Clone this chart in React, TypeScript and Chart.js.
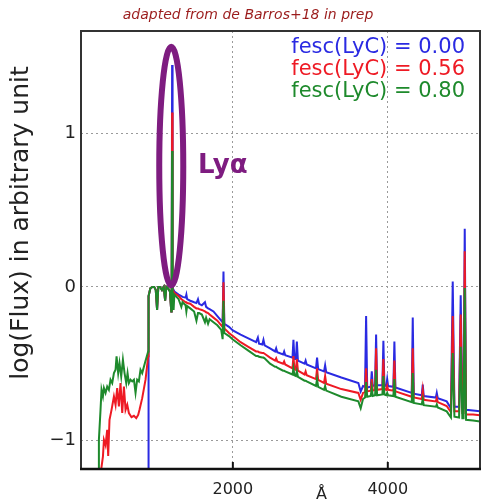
import React, { useEffect, useRef } from "react";
import { Chart, registerables } from "chart.js";

Chart.register(...registerables);

// ---------- text ----------
const TITLE = "adapted from de Barros+18 in prep";
const LEGEND_LABELS = ["fesc(LyC) = 0.00", "fesc(LyC) = 0.56", "fesc(LyC) = 0.80"];
const LINE_LABEL = "Lyα";
const X_TITLE = "Å";
const Y_TITLE = "log(Flux) in arbitrary unit";

// ---------- axes ----------
const X_MIN = 40;
const X_MAX = 5190;
const X_TICKS = [2000, 4000];
const Y_MIN = -1.185;
const Y_MAX = 1.665;
const Y_TICKS = [-1, 0, 1];

// ---------- spectra: shared wavelength grid (Å) redward of the Lyman limit ----------
const wavelength = [
  912, 935, 960, 985, 1005, 1022, 1038, 1060, 1085, 1108, 1126, 1142, 1165, 1188, 1205, 1210,
  1216, 1222, 1235, 1245, 1300, 1335, 1350, 1390, 1400, 1410, 1450, 1500, 1530, 1550, 1565,
  1600, 1640, 1655, 1680, 1700, 1750, 1800, 1850, 1868, 1879, 1890, 1950, 2000,
  2100, 2200, 2300, 2308, 2323, 2338, 2380, 2395, 2410, 2480, 2545, 2559, 2573, 2648, 2662,
  2676, 2770, 2782, 2795, 2814, 2826, 2840, 2925, 2939, 2953, 3073, 3087, 3101, 3177, 3191,
  3205, 3400, 3620, 3650, 3680, 3706, 3720, 3734, 3780, 3793, 3806, 3836, 3849, 3862, 3930,
  3943, 3956, 3980, 3992, 4004, 4072, 4085, 4098, 4309, 4322, 4335, 4438, 4451, 4464, 4620,
  4632, 4645, 4760, 4815, 4838, 4860, 4920, 4941, 4962, 4978, 4993, 5010, 5100, 5190,
];

const fluxBlue = [
  -0.06, -0.01, 0.0, 0.0, -0.02, -0.15, 0.0, 0.0, -0.02, 0.0, -0.09, 0.0, -0.01, -0.03, -0.16, -0.05,
  1.443, -0.03, -0.02, -0.03, -0.05, -0.06, -0.065, -0.07, -0.05, -0.08, -0.09, -0.1, -0.105, -0.08, -0.11,
  -0.12, -0.1, -0.13, -0.14, -0.145, -0.16, -0.19, -0.22, -0.23, 0.1, -0.24, -0.26, -0.283,
  -0.31, -0.335, -0.36, -0.36, -0.33, -0.37, -0.375, -0.345, -0.38, -0.4, -0.42, -0.4, -0.425, -0.44, -0.42,
  -0.445, -0.46, -0.345, -0.47, -0.47, -0.355, -0.48, -0.5, -0.48, -0.505, -0.53, -0.46, -0.535, -0.55, -0.51,
  -0.555, -0.59, -0.625, -0.68, -0.645, -0.65, -0.19, -0.655, -0.65, -0.55, -0.645, -0.64, -0.31, -0.64, -0.64,
  -0.35, -0.64, -0.645, -0.6, -0.645, -0.65, -0.355, -0.655, -0.69, -0.2, -0.695, -0.705, -0.635, -0.71, -0.72,
  -0.69, -0.725, -0.745, -0.79, 0.035, -0.78, -0.78, -0.055, -0.79, -0.79, 0.378, -0.8, -0.805, -0.81,
];

const fluxRed = [
  -0.06, -0.01, 0.0, 0.0, -0.02, -0.15, 0.0, 0.0, -0.02, 0.0, -0.09, 0.0, -0.01, -0.03, -0.16, -0.05,
  1.134, -0.03, -0.03, -0.04, -0.06, -0.08, -0.085, -0.1, -0.1, -0.105, -0.11, -0.13, -0.14, -0.14, -0.145,
  -0.15, -0.16, -0.165, -0.17, -0.18, -0.2, -0.22, -0.25, -0.26, 0.03, -0.27, -0.3, -0.32,
  -0.36, -0.39, -0.42, -0.42, -0.42, -0.425, -0.43, -0.43, -0.435, -0.46, -0.48, -0.465, -0.485, -0.5, -0.485,
  -0.505, -0.53, -0.45, -0.535, -0.54, -0.47, -0.545, -0.57, -0.55, -0.575, -0.6, -0.53, -0.605, -0.625, -0.58,
  -0.63, -0.665, -0.69, -0.735, -0.69, -0.685, -0.53, -0.68, -0.675, -0.6, -0.675, -0.67, -0.4, -0.67, -0.665,
  -0.47, -0.665, -0.67, -0.645, -0.67, -0.675, -0.48, -0.68, -0.715, -0.4, -0.72, -0.73, -0.67, -0.735, -0.745,
  -0.725, -0.75, -0.775, -0.815, -0.19, -0.81, -0.81, -0.18, -0.82, -0.82, 0.232, -0.83, -0.83, -0.835,
];

const fluxGreen = [
  -0.06, -0.01, 0.0, 0.0, -0.02, -0.15, 0.0, 0.0, -0.02, 0.0, -0.09, 0.0, -0.01, -0.03, -0.16, -0.05,
  0.884, -0.05, -0.15, -0.05, -0.08, -0.13, -0.1, -0.12, -0.16, -0.125, -0.14, -0.16, -0.22, -0.17, -0.17,
  -0.18, -0.23, -0.2, -0.24, -0.21, -0.23, -0.25, -0.28, -0.34, -0.09, -0.3, -0.32, -0.343,
  -0.38, -0.415, -0.45, -0.45, -0.45, -0.455, -0.46, -0.46, -0.465, -0.5, -0.52, -0.52, -0.525, -0.545, -0.545,
  -0.55, -0.57, -0.53, -0.575, -0.58, -0.55, -0.585, -0.61, -0.61, -0.615, -0.645, -0.6, -0.65, -0.67, -0.645,
  -0.675, -0.715, -0.745, -0.79, -0.73, -0.72, -0.62, -0.715, -0.71, -0.66, -0.71, -0.705, -0.54, -0.705, -0.7,
  -0.58, -0.7, -0.705, -0.69, -0.705, -0.71, -0.6, -0.715, -0.75, -0.56, -0.755, -0.765, -0.73, -0.77, -0.78,
  -0.765, -0.785, -0.81, -0.85, -0.43, -0.845, -0.85, -0.39, -0.855, -0.855, -0.007, -0.865, -0.87, -0.876,
];

// ---------- ionizing (λ < 912 Å) part ----------
const farUvWaveRed = [
  300, 323, 336, 357, 378, 391, 408, 434, 465, 486, 507, 529, 550, 572, 594, 615, 637, 658, 692,
  723, 753, 778, 795, 830, 873, 907,
];
const farUvFluxRed = [
  -1.19, -1.104, -0.995, -1.03, -0.93, -1.1, -0.865, -0.8, -0.713, -0.767, -0.658, -0.778, -0.626,
  -0.821, -0.648, -0.8, -0.767, -0.821, -0.848, -0.839, -0.854, -0.833, -0.8, -0.724, -0.604, -0.452,
];
const farUvWaveGreen = [
  262, 271, 292, 305, 323, 336, 357, 378, 400, 421, 443, 465, 486, 499, 520, 537, 559, 581, 602,
  624, 641, 658, 679, 701, 723, 744, 765, 787, 808, 830, 865, 907,
];
const farUvFluxGreen = [
  -1.25, -0.995, -0.8, -0.67, -0.713, -0.658, -0.69, -0.648, -0.67, -0.604, -0.626, -0.561, -0.539,
  -0.452, -0.561, -0.496, -0.583, -0.474, -0.561, -0.626, -0.561, -0.626, -0.604, -0.615, -0.604,
  -0.69, -0.604, -0.615, -0.539, -0.561, -0.496, -0.42,
];
const farUvWaveBlue = [912];
const farUvFluxBlue = [-1.5];

// ---------- annotation (Lyα ellipse), in data units ----------
const ELLIPSE_CENTER_X = 1205;
const ELLIPSE_CENTER_Y = 0.786;
const ELLIPSE_HALF_W = 155;
const ELLIPSE_HALF_H = 0.776;

// ---------- styles ----------
const SERIES_COLORS = ["#2a2ae2", "#ee1a24", "#1e8a2c"];
const PURPLE = "#7e1c80";
const TITLE_COLOR = "#9b1c1c";
const FONT = '"DejaVu Sans", sans-serif';

function toPoints(xs: number[], ys: number[]) {
  return xs.map((x, i) => ({ x, y: ys[i] }));
}

const decorations = {
  id: "decorations",
  afterDatasetsDraw(chart: any) {
    const { ctx, scales } = chart;
    const xs = scales.x;
    const ys = scales.y;
    const cx = xs.getPixelForValue(ELLIPSE_CENTER_X);
    const cy = ys.getPixelForValue(ELLIPSE_CENTER_Y);
    const rx = xs.getPixelForValue(ELLIPSE_CENTER_X + ELLIPSE_HALF_W) - cx;
    const ry = cy - ys.getPixelForValue(ELLIPSE_CENTER_Y + ELLIPSE_HALF_H);
    ctx.save();
    ctx.strokeStyle = PURPLE;
    ctx.lineWidth = 6;
    ctx.beginPath();
    ctx.ellipse(cx, cy, rx, ry, 0, 0, Math.PI * 2);
    ctx.stroke();
    ctx.restore();
  },
  afterDraw(chart: any) {
    const { ctx, chartArea: a, scales } = chart;
    ctx.save();
    // frame
    ctx.strokeStyle = "#333";
    ctx.lineWidth = 2;
    ctx.strokeRect(a.left, a.top, a.right - a.left, a.bottom - a.top);
    ctx.strokeStyle = "#111";
    ctx.lineWidth = 2.5;
    ctx.beginPath();
    ctx.moveTo(a.left - 1, a.bottom);
    ctx.lineTo(a.right + 1, a.bottom);
    ctx.stroke();
    // inner tick marks on x axis
    ctx.lineWidth = 2;
    scales.x.ticks.forEach((t: any) => {
      const px = scales.x.getPixelForValue(t.value);
      ctx.beginPath();
      ctx.moveTo(px, a.bottom);
      ctx.lineTo(px, a.bottom - 7);
      ctx.stroke();
    });
    // title
    ctx.fillStyle = TITLE_COLOR;
    ctx.font = `italic 14px ${FONT}`;
    ctx.textAlign = "center";
    ctx.textBaseline = "alphabetic";
    ctx.fillText(TITLE, 248, 19);
    // legend text
    ctx.font = `21px ${FONT}`;
    ctx.textAlign = "right";
    LEGEND_LABELS.forEach((lab, i) => {
      ctx.fillStyle = SERIES_COLORS[i];
      ctx.fillText(lab, 465, 53.3 + i * 21.7);
    });
    // Lyα label
    ctx.fillStyle = PURPLE;
    ctx.font = `bold 26px ${FONT}`;
    ctx.textAlign = "left";
    ctx.fillText(LINE_LABEL, 198, 173.3);
    // x title
    ctx.fillStyle = "#222";
    ctx.font = `16px ${FONT}`;
    ctx.textAlign = "center";
    ctx.fillText(X_TITLE, 321.5, 498.5);
    // y title
    ctx.translate(27.5, 223);
    ctx.rotate(-Math.PI / 2);
    ctx.font = `25px ${FONT}`;
    ctx.fillText(Y_TITLE, 0, 0);
    ctx.restore();
  },
};

export default function App() {
  const canvasRef = useRef<HTMLCanvasElement | null>(null);

  useEffect(() => {
    if (!canvasRef.current) return;
    const gridDash = [2, 3];
    const chart = new Chart(canvasRef.current, {
      type: "line",
      data: {
        datasets: [
          {
            label: LEGEND_LABELS[0],
            data: [...toPoints(farUvWaveBlue, farUvFluxBlue), ...toPoints(wavelength, fluxBlue)],
            borderColor: SERIES_COLORS[0],
            order: 2,
          },
          {
            label: LEGEND_LABELS[1],
            data: [...toPoints(farUvWaveRed, farUvFluxRed), ...toPoints(wavelength, fluxRed)],
            borderColor: SERIES_COLORS[1],
            order: 1,
          },
          {
            label: LEGEND_LABELS[2],
            data: [...toPoints(farUvWaveGreen, farUvFluxGreen), ...toPoints(wavelength, fluxGreen)],
            borderColor: SERIES_COLORS[2],
            order: 0,
          },
        ].map((d) => ({
          ...d,
          borderWidth: 2,
          pointRadius: 0,
          tension: 0,
          fill: false,
          borderJoinStyle: "miter" as const,
        })),
      },
      options: {
        animation: false,
        responsive: false,
        maintainAspectRatio: false,
        events: [],
        layout: { padding: { top: 31, right: 1, left: 0, bottom: 0 } },
        plugins: { legend: { display: false }, tooltip: { enabled: false }, title: { display: false } },
        scales: {
          x: {
            type: "linear",
            min: X_MIN,
            max: X_MAX,
            afterBuildTicks: (s: any) => {
              s.ticks = X_TICKS.map((value) => ({ value }));
            },
            ticks: {
              autoSkip: false,
              maxRotation: 0,
              padding: 11,
              color: "#222",
              font: { family: FONT, size: 16 },
              callback: (v: any) => String(v),
            },
            grid: { color: "#9a9a9a", lineWidth: 1, drawTicks: false, borderDash: gridDash } as any,
            border: { display: false, dash: gridDash },
            afterFit: (s: any) => {
              s.height = 31;
            },
          },
          y: {
            type: "linear",
            min: Y_MIN,
            max: Y_MAX,
            afterBuildTicks: (s: any) => {
              s.ticks = Y_TICKS.map((value) => ({ value }));
            },
            ticks: {
              autoSkip: false,
              padding: 5,
              color: "#222",
              font: { family: FONT, size: 18 },
              callback: (v: any) => (Number(v) < 0 ? "\u2212" + Math.abs(Number(v)) : String(v)),
            },
            grid: { color: "#9a9a9a", lineWidth: 1, drawTicks: false, borderDash: gridDash } as any,
            border: { display: false, dash: gridDash },
            afterFit: (s: any) => {
              s.width = 81;
            },
          },
        },
      },
      plugins: [decorations],
    });
    return () => chart.destroy();
  }, []);

  return (
    <div style={{ position: "fixed", left: 0, top: 0, width: 481, height: 500, background: "#fff" }}>
      <canvas ref={canvasRef} width={481} height={500} style={{ display: "block", width: 481, height: 500 }} />
    </div>
  );
}
